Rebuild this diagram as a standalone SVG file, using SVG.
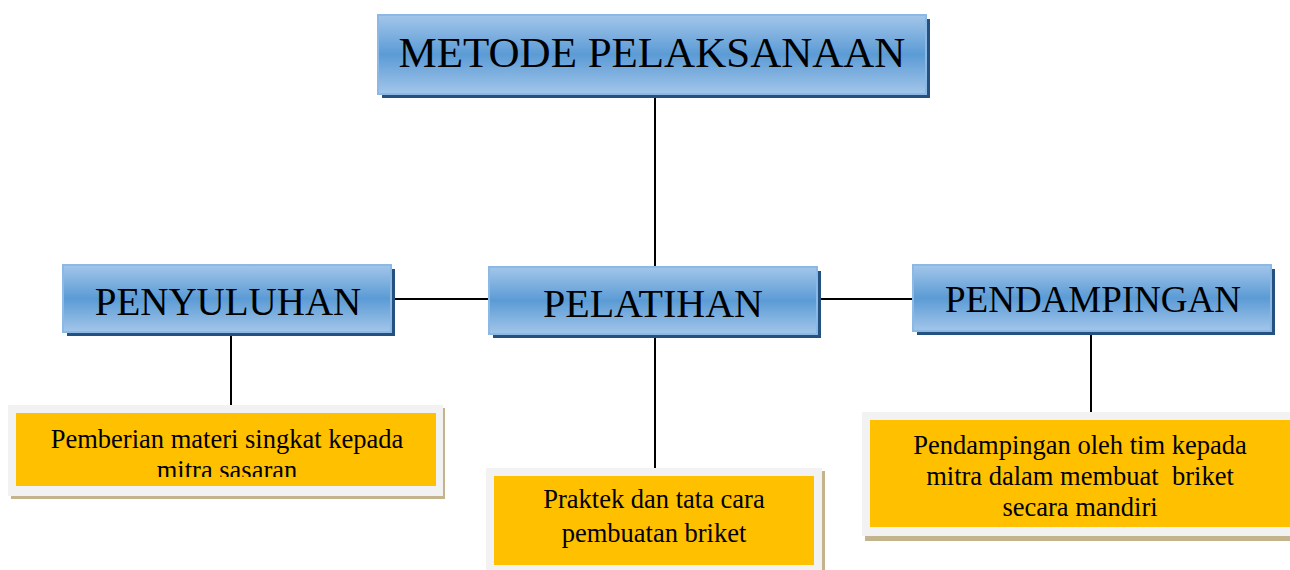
<svg xmlns="http://www.w3.org/2000/svg" width="1290" height="570" viewBox="0 0 1290 570">
<defs>
<linearGradient id="blue" x1="0" y1="0" x2="0" y2="1">
<stop offset="0" stop-color="#a3c6ea"/>
<stop offset="0.5" stop-color="#5b9bd5"/>
<stop offset="1" stop-color="#a3c6ea"/>
</linearGradient>
</defs>
<style>
.sh{fill:#24517f}
.bx{fill:url(#blue);stroke:#8cb8e6;stroke-width:2}
.tt{font-family:"Liberation Serif",serif;fill:#000;text-anchor:middle}
.ln{stroke:#000;stroke-width:2;fill:none}
.frame{fill:#f2f2f2}
.tan{fill:#c4b48e}
.yel{fill:#ffc000}
.sm{font-size:26.5px}
</style>
<g id="connectors">
<line class="ln" x1="655" y1="96" x2="655" y2="268"/>
<line class="ln" x1="392" y1="299" x2="489" y2="299"/>
<line class="ln" x1="818" y1="299" x2="913" y2="299"/>
<line class="ln" x1="231" y1="334" x2="231" y2="406"/>
<line class="ln" x1="655" y1="337" x2="655" y2="469"/>
<line class="ln" x1="1091" y1="334" x2="1091" y2="413"/>
</g>
<g id="metode">
<rect class="sh" x="382" y="19" width="548" height="79"/>
<rect class="bx" x="378" y="15" width="548" height="79"/>
<text class="tt" x="652" y="67" font-size="43">METODE PELAKSANAAN</text>
</g>
<g id="penyuluhan">
<rect class="sh" x="67" y="269" width="328" height="67"/>
<rect class="bx" x="63" y="265" width="328" height="67"/>
<text class="tt" x="228" y="315" font-size="39">PENYULUHAN</text>
</g>
<g id="pelatihan">
<rect class="sh" x="493" y="271" width="328" height="67"/>
<rect class="bx" x="489" y="267" width="328" height="67"/>
<text class="tt" x="653" y="317" font-size="40">PELATIHAN</text>
</g>
<g id="pendampingan">
<rect class="sh" x="917" y="269" width="358" height="66"/>
<rect class="bx" x="913" y="265" width="358" height="66"/>
<text class="tt" x="1093" y="312" font-size="37">PENDAMPINGAN</text>
</g>
<g id="pemberian">
<rect class="tan" x="11" y="408" width="434" height="91"/>
<rect class="frame" x="8" y="405" width="435" height="91"/>
<rect class="yel" x="16" y="413" width="420" height="73"/>
<svg x="16" y="413" width="420" height="64" overflow="hidden">
<text class="tt sm" x="211" y="35">Pemberian materi singkat kepada</text>
<text class="tt sm" x="211" y="66">mitra sasaran</text>
</svg>
</g>
<g id="praktek">
<rect class="tan" x="489" y="471" width="336" height="102"/>
<rect class="frame" x="486" y="468" width="336" height="102"/>
<rect class="yel" x="494" y="476" width="320" height="89"/>
<text class="tt sm" x="654" y="508">Praktek dan tata cara</text>
<text class="tt sm" x="654" y="542">pembuatan briket</text>
</g>
<g id="pendampingan-detail">
<rect class="tan" x="865" y="415" width="428" height="126"/>
<rect class="frame" x="862" y="412" width="428" height="124"/>
<rect class="yel" x="870" y="420" width="420" height="107"/>
<text class="tt sm" x="1080" y="454">Pendampingan oleh tim kepada</text>
<text class="tt sm" x="1080" y="485" xml:space="preserve">mitra dalam membuat  briket</text>
<text class="tt sm" x="1080" y="516">secara mandiri</text>
</g>
</svg>
